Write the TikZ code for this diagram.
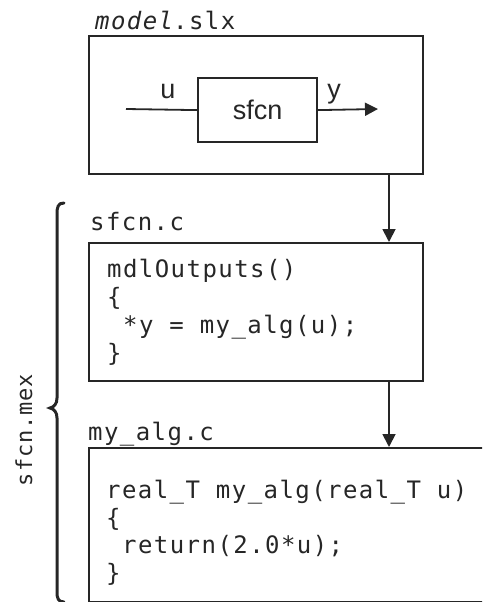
\documentclass[tikz,border=0pt]{standalone}
\usepackage{fontspec}
\setmainfont{Liberation Sans}
\newfontfamily\codef[LetterSpace=6]{DejaVu Sans Mono}
\newfontfamily\codeg[LetterSpace=4]{DejaVu Sans Mono}
\newfontfamily\sansf{Liberation Sans}
\usetikzlibrary{arrows.meta}
\definecolor{ink}{gray}{0.15}
\begin{document}
\begin{tikzpicture}[x=1pt,y=-1pt,
  box/.style={draw=ink,line width=2.2pt,inner sep=0pt,anchor=north west},
  arr/.style={draw=ink,line width=1.8pt,-{Triangle[length=13pt,width=13pt]}},
  wire/.style={draw=ink,line width=1.8pt},
  codeline/.style={anchor=base west,inner sep=0pt,text=ink,font=\codef\fontsize{24pt}{28pt}\selectfont},
  sanslabel/.style={inner sep=0pt,text=ink,font=\sansf\fontsize{27pt}{30pt}\selectfont}]
\useasboundingbox (0,0) rectangle (482,602);
% model.slx
\node[codeline] (lmodel) at (95,30) {\textit{model}.slx};
\node[box,minimum width=334pt,minimum height=138pt] (model) at (88,35) {};
\node[box,minimum width=119pt,minimum height=64pt] (sfcn) at (197,77) {};
\node[sanslabel] (sfcntext) at (sfcn.center) {sfcn};
\coordinate (uin) at (126,109);
\coordinate (yout) at (378,109);
\draw[wire] (uin) -- (sfcn.west);
\draw[arr] (sfcn.east) -- (yout);
\node[sanslabel,anchor=base] (ulab) at (168,98) {u};
\node[sanslabel,anchor=base] (ylab) at (334,98) {y};
% sfcn.c
\node[codeline] (lsfcnc) at (90,230) {sfcn.c};
\node[box,minimum width=334pt,minimum height=138pt] (sfcnc) at (88,242) {};
\node[codeline] (c1) at (107,277) {mdlOutputs()};
\node[codeline] (c2) at (107,305) {\{};
\node[codeline] (c3) at (123,333) {*y = my\_alg(u);};
\node[codeline] (c4) at (107,361) {\}};
% my_alg.c
\node[codeline] (lmyalg) at (88,440) {my\_alg.c};
\begin{scope}
\clip (0,0) rectangle (482,602);
\node[box,minimum width=430pt,minimum height=154pt] (myalg) at (88,447) {};
\end{scope}
\node[codeline] (d1) at (106,498) {real\_T my\_alg(real\_T u)};
\node[codeline] (d2) at (106,526) {\{};
\node[codeline] (d3) at (122,553) {return(2.0*u);};
\node[codeline] (d4) at (106,581) {\}};
% arrows
\coordinate (ax) at (389,0);
\draw[arr] (model.south -| ax) -- (sfcnc.north -| ax);
\draw[arr] (sfcnc.south -| ax) -- (myalg.north -| ax);
% brace
\draw[ink,line width=3pt,line cap=round] (64,203) .. controls (58,203) and (57,207) .. (57,214) -- (57,398)
  .. controls (57,404) and (54,407) .. (50,408) .. controls (54,409) and (57,412) .. (57,418)
  -- (57,592) .. controls (57,598) and (58,602) .. (64,602);
\node[anchor=base,rotate=90,inner sep=0pt,text=ink,font=\codeg\fontsize{22pt}{24pt}\selectfont] (mex) at (32,430) {sfcn.mex};
\end{tikzpicture}
\end{document}
